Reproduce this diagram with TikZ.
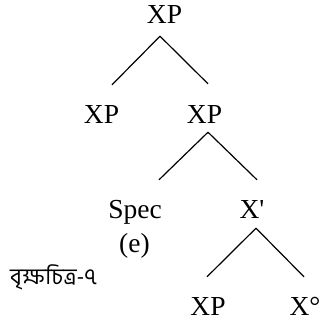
\documentclass[tikz,border=0pt]{standalone}
\usepackage{fontspec}
\setmainfont{Liberation Serif}
\newfontfamily\bnfont[Script=Bengali]{Hind Siliguri}

\begin{document}
\begin{tikzpicture}[x=1pt,y=-1pt,
    every node/.style={inner sep=0pt,text height=17pt,text depth=0pt,anchor=base,
      font=\fontsize{27.5}{30}\selectfont},
    every edge/.style={draw,line width=1.2pt}]
                \useasboundingbox (0,0) rectangle (322,327);
                % tree labels, placed on their baselines
                \node (XPa) at (164.5,23.3) {XP};
                \node (XPb) at (101.5,123) {XP};
                \node (XPc) at (204.5,123) {XP};
                \node (Spec) at (135,218.3) {Spec};
                \node (E) at (134.5,252.5) {(e)};
                \node (Xbar) at (252,218.3) {X\textquotesingle};
                \node (XPd) at (208,315) {XP};
                \node (Xo) at (305,315) {X°};
                \node[anchor=base west,font=\bnfont\fontsize{22.5}{26}\selectfont] (cap) at (10,284) {বৃক্ষচিত্র-৭};
                \path
                ([xshift=-4.5pt,yshift=-12.7pt]XPa.south) edge ([xshift=10.5pt,yshift=21pt]XPb.north)
                ([xshift=-4.5pt,yshift=-12.7pt]XPa.south) edge ([xshift=3.5pt,yshift=22pt]XPc.north)
                ([xshift=3.5pt,yshift=-9pt]XPc.south) edge ([xshift=24pt,yshift=21.3pt]Spec.north)
                ([xshift=3.5pt,yshift=-9pt]XPc.south) edge ([xshift=5pt,yshift=21.3pt]Xbar.north)
                ([xshift=4pt,yshift=-9.7pt]Xbar.south) edge ([xshift=-1pt,yshift=21pt]XPd.north)
                ([xshift=4pt,yshift=-9.7pt]Xbar.south) edge ([xshift=-1pt,yshift=21pt]Xo.north);
                \end{tikzpicture}
\end{document}
